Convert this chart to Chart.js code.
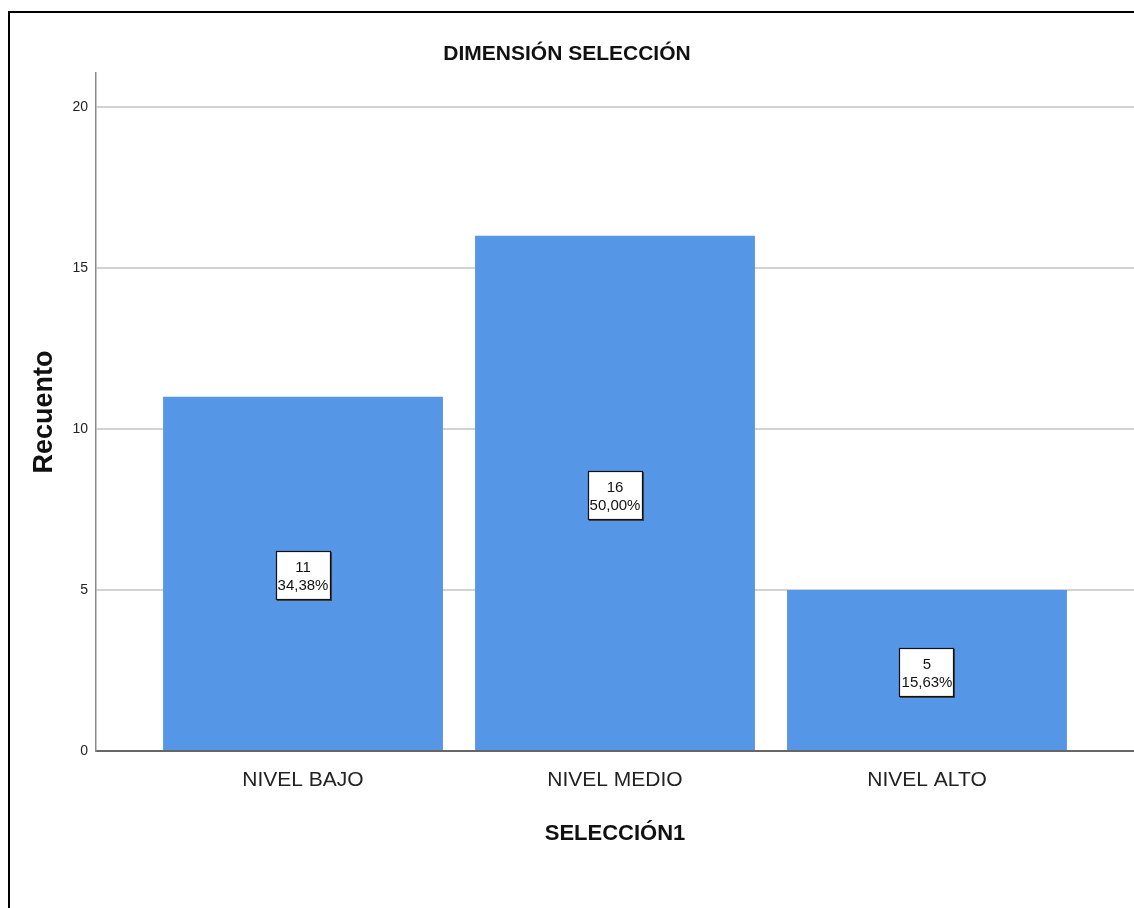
<!DOCTYPE html>
<html>
<head>
<meta charset="utf-8">
<script src="https://cdn.jsdelivr.net/npm/chart.js@4.4.0/dist/chart.umd.min.js"></script>
<style>
  html, body { margin: 0; padding: 0; background: #fff; overflow: hidden; }
  #wrap { position: relative; width: 1134px; height: 908px; }
  #frame { position: absolute; left: 8px; top: 11px; width: 1300px; height: 1000px;
           border-left: 2px solid #000; border-top: 2px solid #000; pointer-events: none; }
</style>
</head>
<body>
<div id="wrap">
  <canvas id="chart" width="1134" height="908"></canvas>
  <div id="frame"></div>
</div>
<script>
const categories = ['NIVEL BAJO', 'NIVEL MEDIO', 'NIVEL ALTO'];
const counts = [11, 16, 5];
const percents = ['34,38%', '50,00%', '15,63%'];
const yTicks = [0, 5, 10, 15, 20];

const SANS = '"Liberation Sans", Arial, sans-serif';
const BAR_COLOR = '#5596e6';

// boxed "count / percent" labels in the middle of each bar
const boxLabels = {
  id: 'boxLabels',
  afterDatasetsDraw(chart) {
    const ctx = chart.ctx;
    const meta = chart.getDatasetMeta(0);
    meta.data.forEach((bar, i) => {
      const cx = bar.x;
      const cy = (bar.y + bar.base) / 2 + 2.5;
      const w = 55, h = 49;
      const left = Math.round(cx - w / 2), top = Math.round(cy - h / 2);
      ctx.save();
      ctx.fillStyle = '#444';
      ctx.fillRect(left + 1, top + 1, w, h);
      ctx.fillStyle = '#fff';
      ctx.fillRect(left, top, w, h);
      ctx.strokeStyle = '#111';
      ctx.lineWidth = 1.2;
      ctx.strokeRect(left + 0.5, top + 0.5, w - 1, h - 1);
      ctx.fillStyle = '#111';
      ctx.font = '15px ' + SANS;
      ctx.textAlign = 'center';
      ctx.textBaseline = 'middle';
      ctx.fillText(String(counts[i]), cx, cy - 7.5);
      ctx.fillText(percents[i], cx, cy + 10.5);
      ctx.restore();
    });
  }
};

new Chart(document.getElementById('chart'), {
  type: 'bar',
  data: {
    datasets: [{
      data: counts.map((v, i) => ({ x: i, y: v })),
      backgroundColor: BAR_COLOR,
      borderWidth: 0,
      categoryPercentage: 1,
      barPercentage: 0.897,
    }],
  },
  options: {
    responsive: false,
    animation: false,
    layout: { padding: { left: 0, right: 0, top: 0, bottom: 0 } },
    plugins: {
      legend: { display: false },
      tooltip: { enabled: false },
      title: {
        display: true,
        text: 'DIMENSIÓN SELECCIÓN',
        color: '#111',
        font: { family: SANS, size: 21, weight: 'bold' },
        padding: { top: 42, bottom: 5.8 },
      },
    },
    scales: {
      x: {
        type: 'linear',
        offset: false,
        min: -0.6635,
        max: 2.6635,
        afterBuildTicks: (scale) => { scale.ticks = categories.map((c, i) => ({ value: i })); },
        afterFit: (scale) => { scale.height = 157; },
        ticks: {
          callback: (v) => categories[v],
          autoSkip: false,
          maxRotation: 0,
          color: '#222',
          padding: 9,
          font: { family: SANS, size: 21 },
        },
        grid: { display: false, offset: false },
        border: { color: '#666', width: 2 },
        title: {
          display: true,
          text: 'SELECCIÓN1',
          color: '#111',
          font: { family: SANS, size: 22, weight: 'bold' },
          padding: { top: 0, bottom: 61 },
        },
      },
      y: {
        min: 0,
        max: 21.05,
        afterBuildTicks: (scale) => { scale.ticks = yTicks.map(v => ({ value: v })); },
        afterFit: (scale) => { scale.width = 96; },
        ticks: {
          color: '#222',
          padding: 8,
          font: { family: SANS, size: 14 },
        },
        grid: {
          color: (c) => (c.tick && c.tick.value === 0 ? 'rgba(0,0,0,0)' : '#d2d2d2'),
          lineWidth: 2,
          drawTicks: false,
        },
        border: { color: '#8a8a8a', width: 1.5 },
        title: {
          display: true,
          text: 'Recuento',
          color: '#111',
          font: { family: SANS, size: 27, weight: 'bold' },
          padding: { top: 28, bottom: 0 },
        },
      },
    },
  },
  plugins: [boxLabels],
});
</script>
</body>
</html>
